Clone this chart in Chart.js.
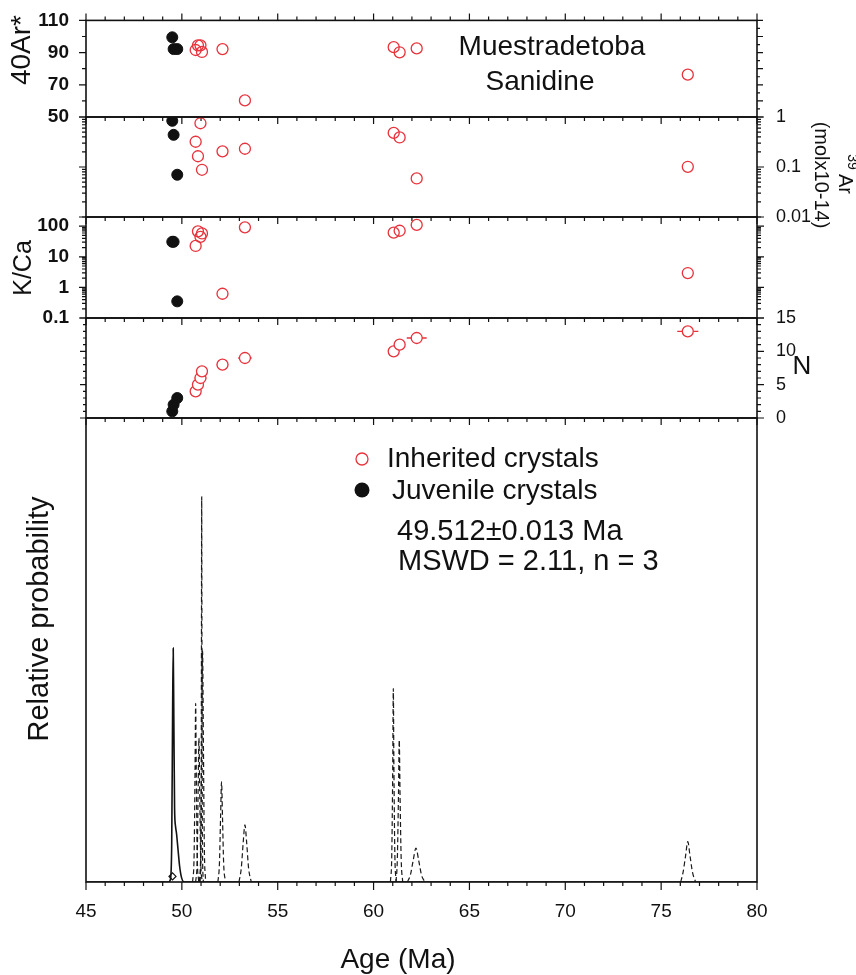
<!DOCTYPE html>
<html>
<head>
<meta charset="utf-8">
<script src="https://cdn.jsdelivr.net/npm/chart.js@4.4.1/dist/chart.umd.min.js"></script>
<style>
  html, body { margin: 0; padding: 0; background: #fff; }
  #wrap { position: relative; width: 856px; height: 975px; }
  #wrap canvas { position: absolute; left: 0; top: 0; }
</style>
</head>
<body>
<div id="wrap">
  <canvas id="c1" width="856" height="975"></canvas>
  <canvas id="c2" width="856" height="975"></canvas>
  <canvas id="c3" width="856" height="975"></canvas>
  <canvas id="c4" width="856" height="975"></canvas>
  <canvas id="c5" width="856" height="975"></canvas>
</div>
<script>
// --- data ---
// inherited crystals (red open circles)
const inheritedAge = [50.72, 50.84, 50.97, 51.05, 52.12, 53.29, 61.05, 61.36, 62.25, 76.39];
const inheritedAr40 = [91.6, 94.5, 94.5, 90.4, 92.2, 60.3, 93.4, 90.2, 92.6, 76.3];
const inheritedAr39 = [0.32, 0.164, 0.75, 0.088, 0.206, 0.232, 0.48, 0.39, 0.059, 0.101];
const inheritedKCa = [22.6, 68, 45, 58, 0.62, 92, 61.5, 71, 110, 2.95];
const inheritedN = [4, 5, 6, 7, 8, 9, 10, 11, 12, 13];
const inheritedErr = [0.28, 0.3, 0.3, 0.3, 0.3, 0.35, 0.28, 0.25, 0.52, 0.55];

// juvenile crystals (black dots)
const juvenileAge = [49.50, 49.57, 49.76];
const juvenileAr40 = [99.5, 92.2, 92.2];
const juvenileAr39 = [0.84, 0.44, 0.070];
const juvenileKCa = [31, 31, 0.35];
const juvenileN = [1, 2, 3];
const juvenileErr = [0.25, 0.25, 0.25];

// probability curve of juvenile population (solid)
const juvenileProbAge = [45, 49.30, 49.40, 49.47, 49.52, 49.55, 49.58, 49.62, 49.67, 49.72, 49.80, 49.88, 49.98, 50.12, 80];
const juvenileProb    = [0, 0, 0.5, 8, 38, 50.4, 36, 16, 12, 10.5, 7, 3.5, 1, 0, 0];
const meanAge = 49.512;

// probability peaks of inherited crystals (dashed)
const inheritedProbAge = [
  [50.56, 50.64, 50.69, 50.72, 50.75, 50.80, 50.88],
  [50.72, 50.80, 50.85, 50.89, 50.93, 50.98, 51.06],
  [50.95, 51.00, 51.02, 51.035, 51.05, 51.07, 51.12],
  [50.92, 50.99, 51.04, 51.08, 51.12, 51.17, 51.24],
  [51.88, 51.96, 52.02, 52.07, 52.12, 52.18, 52.28],
  [52.98, 53.10, 53.20, 53.29, 53.38, 53.48, 53.62],
  [60.88, 60.95, 61.00, 61.03, 61.06, 61.11, 61.18],
  [61.17, 61.24, 61.30, 61.34, 61.38, 61.44, 61.52],
  [61.76, 61.92, 62.06, 62.21, 62.36, 62.50, 62.68],
  [76.02, 76.14, 76.27, 76.39, 76.51, 76.64, 76.80]
];
const inheritedProb = [
  [0, 6, 25, 38.5, 25, 6, 0],
  [0, 5, 20, 31, 20, 5, 0],
  [0, 10, 45, 83, 45, 10, 0],
  [0, 8, 32, 50, 32, 8, 0],
  [0, 4, 14, 21.6, 14, 4, 0],
  [0, 3, 8.5, 12.3, 8.5, 3, 0],
  [0, 6, 25, 41.7, 25, 6, 0],
  [0, 5, 19, 30.6, 19, 5, 0],
  [0, 1.5, 4.5, 7.3, 4.5, 1.5, 0],
  [0, 2, 5.5, 8.7, 5.5, 2, 0]
];

const RED = '#e8323c';
const INK = '#111111';
const FAMILY = '"Liberation Sans", Arial, Helvetica, sans-serif';

// helpers
function pts(xs, ys) { return xs.map((x, i) => ({ x: x, y: ys[i] })); }
function steps(a, b, step) { const out = []; for (let v = a; v <= b + 1e-9; v += step) out.push(+v.toFixed(6)); return out; }
function logSteps(min, max) {
  const out = [];
  for (let e = Math.floor(Math.log10(min)); e <= Math.ceil(Math.log10(max)); e++) {
    for (let m = 1; m < 10; m++) {
      const v = +(m * Math.pow(10, e)).toPrecision(6);
      if (v >= min * 0.999 && v <= max * 1.001) out.push(v);
    }
  }
  return out;
}
const isDecade = v => Math.abs(Math.log10(v) - Math.round(Math.log10(v))) < 1e-6;
const decadeLabel = v => isDecade(v) ? String(+v.toPrecision(3)) : '';

function redSet(data, fill) {
  return { data: data, pointRadius: 5.5, borderWidth: 1.3, borderColor: RED, backgroundColor: fill || 'rgba(0,0,0,0)' };
}
function blackSet(data) {
  return { data: data, pointRadius: 5.5, borderWidth: 1, borderColor: INK, backgroundColor: INK };
}

// frame and tick marks drawn through the chart's scales
function framePlugin(marks) {
  return {
    id: 'frame',
    afterDraw(chart) {
      const ctx = chart.ctx, a = chart.chartArea;
      ctx.save();
      ctx.strokeStyle = INK;
      ctx.lineWidth = 1.2;
      ctx.beginPath();
      marks.forEach(m => {
        const s = chart.scales[m.scale];
        m.values.forEach(v => {
          const len = m.major(v) ? m.long : m.short;
          const p = s.getPixelForValue(v);
          if (m.edge === 'top') { ctx.moveTo(p, a.top); ctx.lineTo(p, a.top - len); }
          if (m.edge === 'bottom') { ctx.moveTo(p, a.bottom); ctx.lineTo(p, a.bottom + len); }
          if (m.edge === 'left') { ctx.moveTo(a.left, p); ctx.lineTo(a.left - len, p); }
          if (m.edge === 'right') { ctx.moveTo(a.right, p); ctx.lineTo(a.right + len, p); }
        });
      });
      ctx.stroke();
      ctx.lineWidth = 1.6;
      ctx.strokeRect(a.left, a.top, a.right - a.left, a.bottom - a.top);
      ctx.restore();
    }
  };
}

function textPlugin(items) {
  return {
    id: 'texts',
    afterDraw(chart) {
      const ctx = chart.ctx;
      items.forEach(t => {
        ctx.save();
        ctx.translate(t.x, t.y);
        if (t.marker) {
          ctx.beginPath();
          ctx.arc(0, 0, t.r, 0, Math.PI * 2);
          if (t.marker === 'filled') { ctx.fillStyle = INK; ctx.fill(); }
          else { ctx.strokeStyle = RED; ctx.lineWidth = 1.3; ctx.stroke(); }
        } else {
          if (t.rot) ctx.rotate(t.rot * Math.PI / 180);
          ctx.font = t.font;
          ctx.fillStyle = INK;
          ctx.textAlign = t.align || 'center';
          ctx.textBaseline = 'middle';
          ctx.fillText(t.text, 0, 0);
        }
        ctx.restore();
      });
    }
  };
}

// horizontal age error bars in the N panel
const errorBars = {
  id: 'errorBars',
  beforeDatasetsDraw(chart) {
    const ctx = chart.ctx, xs = chart.scales.x, ys = chart.scales.y2;
    const groups = [[inheritedAge, inheritedN, inheritedErr, RED], [juvenileAge, juvenileN, juvenileErr, INK]];
    ctx.save();
    ctx.lineWidth = 1.3;
    groups.forEach(([ages, ns, errs, col]) => {
      ctx.strokeStyle = col;
      ctx.beginPath();
      ages.forEach((age, i) => {
        const y = ys.getPixelForValue(ns[i]);
        ctx.moveTo(xs.getPixelForValue(age - errs[i]), y);
        ctx.lineTo(xs.getPixelForValue(age + errs[i]), y);
      });
      ctx.stroke();
    });
    ctx.restore();
  }
};

const xMarks = edge => ({ scale: 'x', edge: edge, values: steps(45, 80, 1), major: v => v % 5 === 0, long: 7, short: 4 });
const labelFontL = { family: FAMILY, size: 19, weight: 'bold' };
const labelFontR = { family: FAMILY, size: 18 };
const X_AXIS_H = 50;

function makePanel(id, area, scales, datasets, marks, texts, extra) {
  const showX = !!scales.x;
  const axisBase = { grid: { display: false }, border: { display: false } };
  return new Chart(document.getElementById(id), {
    type: 'scatter',
    data: { datasets: datasets },
    options: {
      responsive: false,
      animation: false,
      events: [],
      devicePixelRatio: 1,
      layout: { padding: { top: area[0], bottom: 975 - area[1] - (showX ? X_AXIS_H : 0), left: 0, right: 0 } },
      scales: {
        x: Object.assign({ type: 'linear', min: 45, max: 80, display: false }, scales.x || {}),
        y: Object.assign({ position: 'left', afterFit: s => { s.width = 86; } }, axisBase, scales.y),
        y2: Object.assign({ position: 'right', afterFit: s => { s.width = 99; } }, axisBase, scales.y2)
      },
      plugins: { legend: { display: false }, tooltip: { enabled: false } }
    },
    plugins: [framePlugin(marks), textPlugin(texts)].concat(extra || [])
  });
}

// panel 1: 40Ar*
makePanel('c1', [16, 117], {
  y: { type: 'linear', min: 50, max: 110, ticks: { stepSize: 20, font: labelFontL, color: INK, padding: 9 } },
  y2: { type: 'linear', min: 50, max: 110, ticks: { display: false } }
}, [
  Object.assign(redSet(pts(inheritedAge, inheritedAr40)), { yAxisID: 'y' }),
  Object.assign(blackSet(pts(juvenileAge, juvenileAr40)), { yAxisID: 'y' })
], [
  xMarks('top'), xMarks('bottom'),
  { scale: 'y', edge: 'left', values: steps(50, 110, 10), major: v => (v - 50) % 20 === 0, long: 7, short: 4 },
  { scale: 'y2', edge: 'right', values: steps(50, 110, 5), major: v => v % 10 === 0, long: 6, short: 3 }
], [
  { text: '40Ar*', x: 22, y: 50, rot: -90, font: '28px ' + FAMILY },
  { text: 'Muestradetoba', x: 552, y: 47, font: '28px ' + FAMILY },
  { text: 'Sanidine', x: 540, y: 82, font: '28px ' + FAMILY }
]);

// panel 2: 39Ar (log)
makePanel('c2', [117, 217], {
  y: { type: 'logarithmic', min: 0.01, max: 1, ticks: { display: false } },
  y2: { type: 'logarithmic', min: 0.01, max: 1, ticks: { autoSkip: false, callback: decadeLabel, font: labelFontR, color: INK, padding: 11 } }
}, [
  Object.assign(redSet(pts(inheritedAge, inheritedAr39)), { yAxisID: 'y2' }),
  Object.assign(blackSet(pts(juvenileAge, juvenileAr39)), { yAxisID: 'y2' })
], [
  xMarks('bottom'),
  { scale: 'y', edge: 'left', values: logSteps(0.01, 1), major: isDecade, long: 7, short: 4 },
  { scale: 'y2', edge: 'right', values: logSteps(0.01, 1), major: isDecade, long: 7, short: 4 }
], [
  { text: '39', x: 852, y: 162, rot: 90, font: '14px ' + FAMILY },
  { text: 'Ar', x: 845, y: 184, rot: 90, font: '20px ' + FAMILY },
  { text: '(molx10-14)', x: 821, y: 175, rot: 90, font: '20px ' + FAMILY }
]);

// panel 3: K/Ca (log)
makePanel('c3', [217, 318], {
  y: { type: 'logarithmic', min: 0.1, max: 200, ticks: { autoSkip: false, callback: decadeLabel, font: labelFontL, color: INK, padding: 9 } },
  y2: { type: 'logarithmic', min: 0.1, max: 200, ticks: { display: false } }
}, [
  Object.assign(redSet(pts(inheritedAge, inheritedKCa)), { yAxisID: 'y' }),
  Object.assign(blackSet(pts(juvenileAge, juvenileKCa)), { yAxisID: 'y' })
], [
  xMarks('bottom'),
  { scale: 'y', edge: 'left', values: logSteps(0.1, 200), major: isDecade, long: 7, short: 4 },
  { scale: 'y2', edge: 'right', values: logSteps(0.1, 200), major: isDecade, long: 7, short: 4 }
], [
  { text: 'K/Ca', x: 24, y: 268, rot: -90, font: '25px ' + FAMILY }
]);

// panel 4: N (cumulative) with age error bars
makePanel('c4', [318, 418], {
  y: { type: 'linear', min: 0, max: 15, ticks: { display: false } },
  y2: { type: 'linear', min: 0, max: 15, ticks: { stepSize: 5, font: labelFontR, color: INK, padding: 11 } }
}, [
  Object.assign(redSet(pts(inheritedAge, inheritedN), '#ffffff'), { yAxisID: 'y2' }),
  Object.assign(blackSet(pts(juvenileAge, juvenileN)), { yAxisID: 'y2' })
], [
  xMarks('bottom'),
  { scale: 'y', edge: 'left', values: steps(0, 15, 1), major: v => v % 5 === 0, long: 6, short: 3 },
  { scale: 'y2', edge: 'right', values: steps(0, 15, 1), major: v => v % 5 === 0, long: 7, short: 4 }
], [
  { text: 'N', x: 802, y: 367, font: '26px ' + FAMILY }
], [errorBars]);

// panel 5: relative probability
const probSets = inheritedProbAge.map((ages, i) => ({
  data: pts(ages, inheritedProb[i]), yAxisID: 'y', showLine: true, pointRadius: 0,
  borderColor: '#1a1a1a', borderWidth: 1.2, borderDash: [5, 3], cubicInterpolationMode: 'monotone'
}));
probSets.push({
  data: pts(juvenileProbAge, juvenileProb), yAxisID: 'y', showLine: true, pointRadius: 0,
  borderColor: INK, borderWidth: 1.6, cubicInterpolationMode: 'monotone'
});
probSets.push({
  data: [{ x: meanAge, y: 1.2 }], yAxisID: 'y', pointStyle: 'rectRot', pointRadius: 3.5,
  borderColor: INK, backgroundColor: 'rgba(0,0,0,0)', borderWidth: 1.2
});

makePanel('c5', [418, 882], {
  x: { display: true, afterFit: s => { s.height = X_AXIS_H; }, grid: { display: false }, border: { display: false },
       ticks: { stepSize: 5, font: { family: FAMILY, size: 19 }, color: INK, padding: 10 } },
  y: { type: 'linear', min: 0, max: 100, ticks: { display: false } },
  y2: { type: 'linear', min: 0, max: 100, ticks: { display: false } }
}, probSets, [
  { scale: 'x', edge: 'bottom', values: steps(45, 80, 1), major: v => v % 5 === 0, long: 8, short: 4 }
], [
  { text: 'Relative probability', x: 40, y: 619, rot: -90, font: '29px ' + FAMILY },
  { text: 'Age (Ma)', x: 398, y: 960, font: '28px ' + FAMILY },
  { marker: 'open', x: 362, y: 459, r: 6 },
  { text: 'Inherited crystals', x: 387, y: 459, align: 'left', font: '28px ' + FAMILY },
  { marker: 'filled', x: 362, y: 490, r: 7.5 },
  { text: 'Juvenile crystals', x: 392, y: 491, align: 'left', font: '28px ' + FAMILY },
  { text: '49.512±0.013 Ma', x: 397, y: 532, align: 'left', font: '29px ' + FAMILY },
  { text: 'MSWD = 2.11, n = 3', x: 398, y: 562, align: 'left', font: '29px ' + FAMILY }
]);
</script>
</body>
</html>
